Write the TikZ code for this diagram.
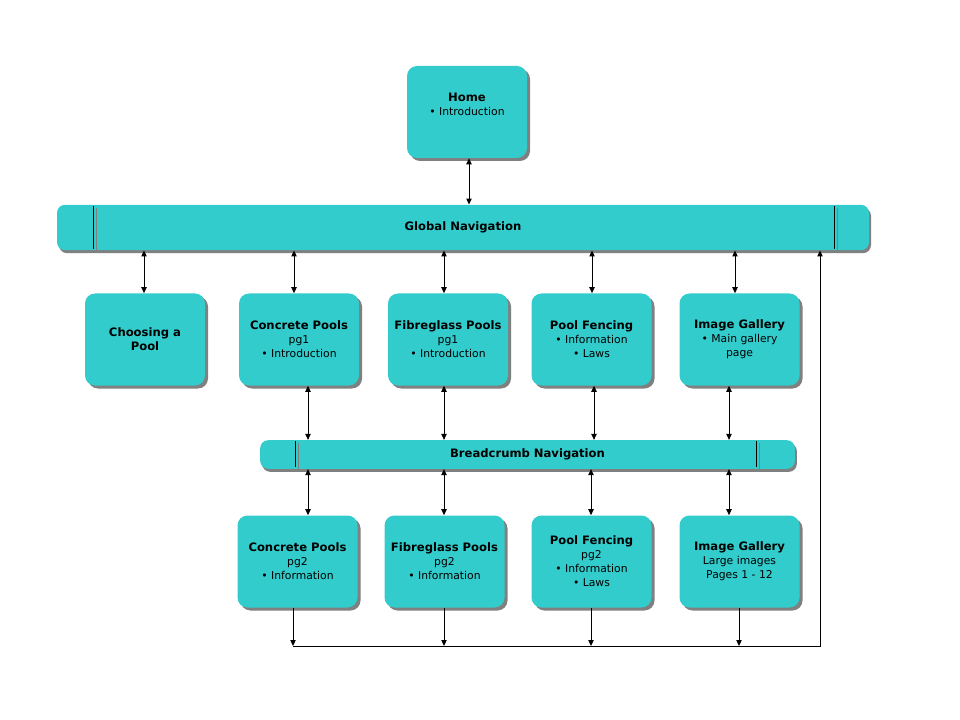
\documentclass[tikz,border=0pt]{standalone}
\usepackage{fontspec}
\setmainfont{DejaVu Sans}
\usetikzlibrary{arrows.meta,shadows,calc}
\definecolor{pooltint}{RGB}{51,204,204}
\definecolor{shadegrey}{RGB}{128,128,128}

\newcommand{\ttl}[1]{{\fontsize{8.7}{10.5}\selectfont\bfseries #1}}

\tikzset{
  page/.style={draw=none,fill=pooltint,rounded corners=7.5pt,
    minimum width=90pt,minimum height=69pt,align=center,
    font=\fontsize{8.1}{10.5}\selectfont,
    drop shadow={shadow xshift=2.25pt,shadow yshift=-2.25pt,fill=shadegrey,opacity=1}},
  navbar/.style={draw=none,fill=pooltint,rounded corners=6pt,
    font=\fontsize{8.7}{10.5}\selectfont\bfseries,
    drop shadow={shadow xshift=1.5pt,shadow yshift=-2.25pt,fill=shadegrey,opacity=1}},
  link/.style={line width=0.75pt,{Triangle[length=4.5pt,width=4pt]}-{Triangle[length=4.5pt,width=4pt]}},
  down/.style={line width=0.75pt,-{Triangle[length=4.5pt,width=4pt]}},
}

\begin{document}
\begin{tikzpicture}[x=0.75pt,y=-0.75pt]
  \useasboundingbox (0,0) rectangle (960,720);

  % top page
  \node[page] (home) at (467,112) {\ttl{Home}\\\textbullet{} Introduction\\[1.5pt]\mbox{}};

  % navigation bars
  \node[navbar,minimum width=609pt,minimum height=34pt] (global) at (463,227.5) {Global Navigation};
  \draw[line width=0.75pt] (93,206) -- (93,249);
  \draw[line width=0.75pt,shadegrey] (96,208) -- (96,251);
  \draw[line width=0.75pt] (834,206) -- (834,249);
  \draw[line width=0.75pt,shadegrey] (837,208) -- (837,251);

  \node[navbar,minimum width=401pt,minimum height=21.5pt] (crumb) at (527.5,454.5) {Breadcrumb Navigation};
  \draw[line width=0.75pt] (295,441) -- (295,467);
  \draw[line width=0.75pt,shadegrey] (298,443) -- (298,469);
  \draw[line width=0.75pt] (756,441) -- (756,467);
  \draw[line width=0.75pt,shadegrey] (759,443) -- (759,469);

  % first level pages
  \node[page] (choose) at (145,339.5) {\ttl{Choosing a}\\\ttl{Pool}};
  \node[page] (conc1) at (299,339.5) {\ttl{Concrete Pools}\\pg1\\\textbullet{} Introduction};
  \node[page] (fibre1) at (448,339.5) {\ttl{Fibreglass Pools}\\pg1\\\textbullet{} Introduction};
  \node[page] (fence1) at (591.5,339.5) {\ttl{Pool Fencing}\\\textbullet{} Information\\\textbullet{} Laws};
  \node[page] (gall1) at (739.5,339.5) {\ttl{Image Gallery}\\\textbullet{} Main gallery\\page};

  % second level pages
  \node[page] (conc2) at (297.5,561.5) {\ttl{Concrete Pools}\\pg2\\\textbullet{} Information};
  \node[page] (fibre2) at (444.5,561.5) {\ttl{Fibreglass Pools}\\pg2\\\textbullet{} Information};
  \node[page] (fence2) at (591.5,561.5) {\ttl{Pool Fencing}\\pg2\\\textbullet{} Information\\\textbullet{} Laws};
  \node[page] (gall2) at (739.5,561.5) {\ttl{Image Gallery}\\Large images\\Pages 1 - 12};

  % columns used by the connectors
  \coordinate (k0) at (469,0);
  \coordinate (k1) at (144,0);
  \coordinate (k2) at (294,0);
  \coordinate (k3) at (444,0);
  \coordinate (k4) at (592,0);
  \coordinate (k5) at (735,0);
  \coordinate (m1) at (308,0);
  \coordinate (m2) at (444,0);
  \coordinate (m3) at (594,0);
  \coordinate (m4) at (729,0);
  \coordinate (n3) at (591,0);
  \coordinate (b1) at (293,646);
  \coordinate (b2) at (444,646);
  \coordinate (b3) at (591,646);
  \coordinate (b4) at (739,646);
  \coordinate (ret) at (820,646);

  \draw[link] (k0 |- home.south) -- (k0 |- global.north);
  \foreach \k/\p in {k1/choose,k2/conc1,k3/fibre1,k4/fence1,k5/gall1}
    \draw[link] (\k |- global.south) -- (\k |- \p.north);
  \foreach \k/\p in {m1/conc1,m2/fibre1,m3/fence1,m4/gall1}
    \draw[link] (\k |- \p.south) -- (\k |- crumb.north);
  \foreach \k/\p in {m1/conc2,m2/fibre2,n3/fence2,m4/gall2}
    \draw[link] (\k |- crumb.south) -- (\k |- \p.north);
  \foreach \k/\p in {b1/conc2,b2/fibre2,b3/fence2,b4/gall2}
    \draw[down] (\k |- \p.south) -- (\k);

  % return path
  \draw[down] (b1) -- (ret) -- (ret |- global.south);
\end{tikzpicture}
\end{document}
